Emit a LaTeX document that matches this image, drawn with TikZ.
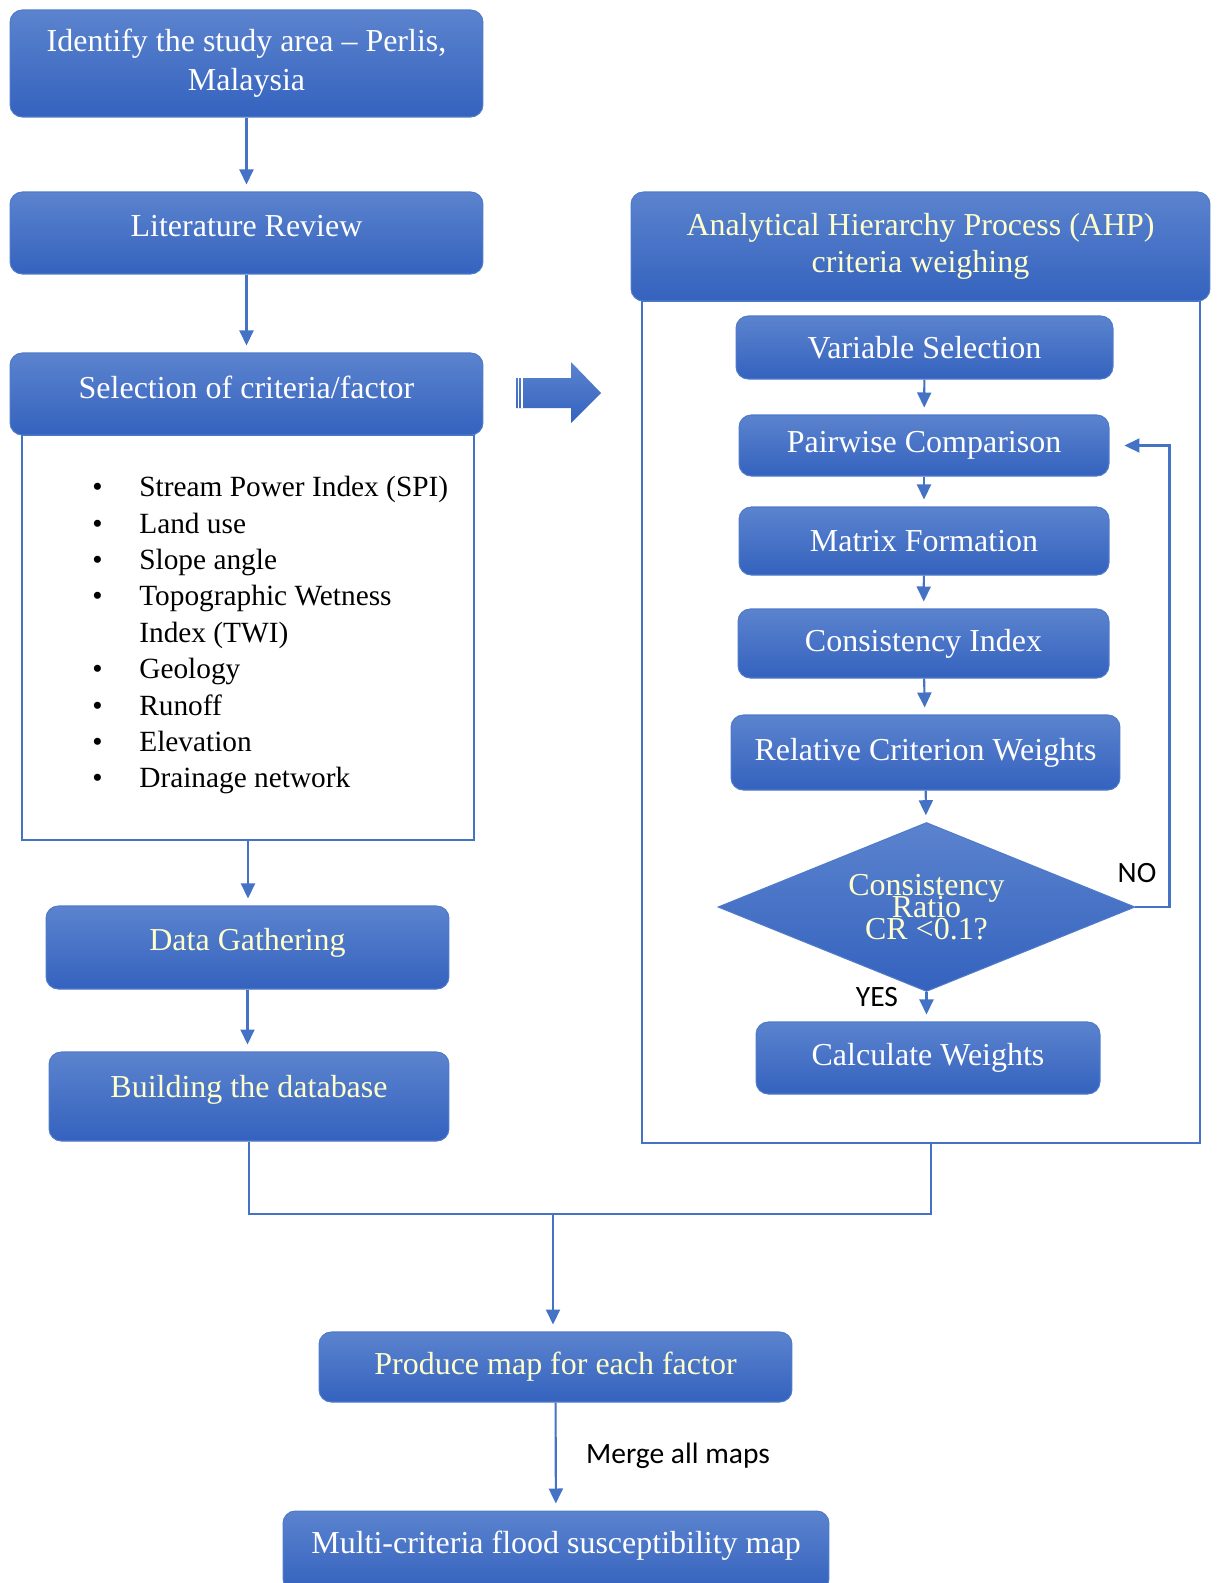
\documentclass[tikz,border=0pt]{standalone}
\usepackage{fontspec}
\setmainfont{Liberation Serif}
\newfontfamily\labelfont{Carlito}
\usetikzlibrary{arrows.meta,shapes.geometric,calc}
\definecolor{boxtop}{HTML}{5B83CE}
\definecolor{boxbot}{HTML}{3462BE}
\definecolor{boxedge}{HTML}{4F7BCA}
\definecolor{linkblue}{HTML}{4472C4}
\definecolor{cream}{HTML}{FFFFCC}
\newcommand\tightlines{\lineskiplimit=-100pt\relax}

\begin{document}
\begin{tikzpicture}[x=0.02cm,y=-0.02cm,
		b/.style={rounded corners=7pt,draw=boxedge,line width=0.6pt,top color=boxtop,bottom color=boxbot,
			font=\fontsize{18.2}{22.4}\selectfont,text=white,align=center,inner sep=2pt},
		by/.style={b,text=cream},
		up/.style={text height=0.45cm,text depth=#1},
		frame/.style={draw=linkblue,line width=1.2pt,fill=white,inner sep=0pt},
		e/.style={-{Triangle[length=3mm,width=2.8mm]},draw=linkblue,line width=1.2pt,shorten >=0.14cm},
		l/.style={draw=linkblue,line width=1.2pt},
		lab/.style={font=\labelfont\fontsize{16.8}{19}\selectfont}
		]
		\useasboundingbox (0,0) rectangle (1217,1583);

		% Left column
		\node[b,minimum width=9.46cm,minimum height=2.14cm] (ident) at (246.5,63.5) {Identify the study area -- Perlis,\\Malaysia};
		\node[b,up=0.3cm,minimum width=9.46cm,minimum height=1.64cm] (lit) at (246.5,233) {Literature Review};
		\node[frame,minimum width=9.04cm,minimum height=8.1cm] (crit) at (248,637.5) {};
		\node[b,up=0.26cm,minimum width=9.46cm,minimum height=1.64cm] (sel) at (246.5,394) {Selection of criteria/factor};
		\node[anchor=north west,inner sep=0pt,font=\fontsize{16.7}{20.7}\selectfont] (items) at (92,471) {%
			\begin{tabular}{@{}p{0.94cm}@{}l@{}}
				\textbullet & Stream Power Index (SPI)\\
				\textbullet & Land use\\
				\textbullet & Slope angle\\
				\textbullet & Topographic Wetness\\
				& Index (TWI)\\
				\textbullet & Geology\\
				\textbullet & Runoff\\
				\textbullet & Elevation\\
				\textbullet & Drainage network
		\end{tabular}};
		\node[by,up=0.34cm,minimum width=8.06cm,minimum height=1.66cm] (data) at (247.5,947.5) {Data Gathering};
		\node[by,up=0.42cm,minimum width=8.0cm,minimum height=1.78cm] (build) at (249,1096.5) {Building the database};
		\draw[e] (ident) -- (lit);
		\draw[e] (lit) -- (sel);
		\draw[e] (crit.south) -- (crit.south |- data.north);
		\draw[e] (data.south) -- (data.south |- build.north);

		% big arrow between the columns
		\shade[top color=boxtop,bottom color=boxbot] (516,378) -- (571,378) -- (571,362) -- (601,393)
		-- (571,423) -- (571,408) -- (516,408) -- cycle;
		\draw[white,line width=0.7pt] (518.5,378) -- (518.5,408) (522,378) -- (522,408);

		% AHP column
		\node[frame,minimum width=11.16cm,minimum height=16.84cm] (ahpbox) at (921,722) {};
		\node[by,minimum width=11.58cm,minimum height=2.18cm,font=\fontsize{18.2}{20.7}\selectfont] (ahp) at (920.5,246.5) {Analytical Hierarchy Process (AHP)\\criteria weighing};
		\node[b,minimum width=7.54cm,minimum height=1.26cm] (var) at (924.5,347.5) {Variable Selection};
		\node[b,minimum width=7.4cm,minimum height=1.22cm] (pair) at (924,445.5) {Pairwise Comparison};
		\node[b,minimum width=7.4cm,minimum height=1.36cm] (mat) at (924,541) {Matrix Formation};
		\node[b,minimum width=7.42cm,minimum height=1.38cm] (ci) at (923.5,643.5) {Consistency Index};
		\node[b,minimum width=7.78cm,minimum height=1.5cm] (rcw) at (925.5,752.5) {Relative Criterion Weights};
		\node[by,diamond,rounded corners=0pt,shape aspect=2.47,minimum width=8.34cm,minimum height=3.38cm,inner sep=0pt,
		font=\fontsize{18.2}{12.6}\selectfont\tightlines] (cr) at (926.5,907) {Consistency\\Ratio\\CR <0.1?};
		\node[b,minimum width=6.88cm,minimum height=1.44cm] (calc) at (928,1058) {Calculate Weights};
		\draw[e] (var) -- (pair);
		\draw[e] (pair) -- (mat);
		\draw[e] (mat) -- (ci);
		\draw[e] (ci) -- (rcw);
		\draw[e] (rcw) -- (cr);
		\draw[e] (cr.south) -- (cr.south |- calc.north);
		\draw[e,shorten >=0.3cm] (cr.east) -- ++(34,0) |- (pair.east);
		\node[lab] (no) at (1137,873) {NO};
		\node[lab] (yes) at (877,997) {YES};

		% merge of both columns
		\coordinate (jr) at (931,1214);
		\coordinate (jm) at (553,1214);
		\draw[l] (build.south) |- (jr) -- (jr |- ahpbox.south);
		\node[by,minimum width=9.46cm,minimum height=1.4cm] (prod) at (555.5,1367) {Produce map for each factor};
		\node[b,minimum width=10.92cm,minimum height=1.6cm,text depth=0.35cm] (multi) at (556,1551) {Multi-criteria flood susceptibility map};
		\draw[e] (jm) -- (jm |- prod.north);
		\draw[e] (prod) -- (multi);
		\node[lab] (merge) at (678,1456) {Merge all maps};
	\end{tikzpicture}
\end{document}
